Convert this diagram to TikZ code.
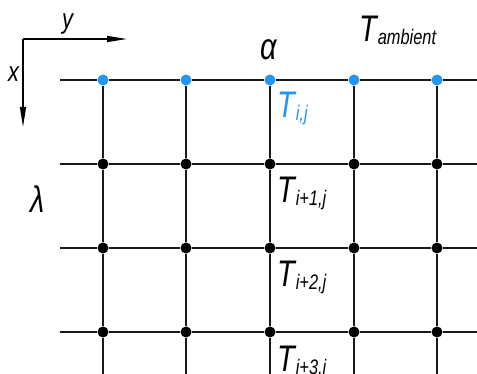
\documentclass[tikz,border=0pt]{standalone}
\usepackage{fontspec}
\setmainfont{Liberation Sans}[FakeStretch=0.78]
\usetikzlibrary{arrows.meta}
\definecolor{nodeblue}{RGB}{33,150,243}
\newcommand{\Tsub}[1]{T\kern1pt\raisebox{-3pt}{\fontsize{21}{21}\selectfont #1}}

\begin{document}
\begin{tikzpicture}[x=1pt,y=-1pt]

\tikzset{
  gridline/.style = {line width=1.6pt, draw=black!90},
  dot/.style      = {circle, fill=black, inner sep=0pt, minimum size=11pt},
  bdot/.style     = {dot, fill=nodeblue},
  axis/.style     = {-{Triangle[length=20pt,width=6pt]}, line width=1.3pt},
  lbl/.style      = {inner sep=0pt, anchor=base west, font=\fontsize{37}{40}\selectfont\itshape},
  axlbl/.style    = {lbl, font=\fontsize{28}{30}\selectfont\itshape},
}

\useasboundingbox (0,0) rectangle (477,374);

% coordinate axes
\coordinate (org) at (23,39);
\coordinate (ytip) at (127,39);
\coordinate (xtip) at (23,127);
\draw[axis] (org) -- (ytip);
\draw[axis] (org) -- (xtip);
\node[axlbl] (ylbl) at (62,29) {y};
\node[axlbl] (xlbl) at (8,82) {x};

% boundary row
\node[bdot] (n00) at (103,80) {};
\node[bdot] (n01) at (186,80) {};
\node[bdot] (n02) at (270,80) {};
\node[bdot] (n03) at (354,80) {};
\node[bdot] (n04) at (437,80) {};
% inner rows
\node[dot] (n10) at (103,164) {};
\node[dot] (n11) at (186,164) {};
\node[dot] (n12) at (270,164) {};
\node[dot] (n13) at (354,164) {};
\node[dot] (n14) at (437,164) {};
\node[dot] (n20) at (103,248) {};
\node[dot] (n21) at (186,248) {};
\node[dot] (n22) at (270,248) {};
\node[dot] (n23) at (354,248) {};
\node[dot] (n24) at (437,248) {};
\node[dot] (n30) at (103,332) {};
\node[dot] (n31) at (186,332) {};
\node[dot] (n32) at (270,332) {};
\node[dot] (n33) at (354,332) {};
\node[dot] (n34) at (437,332) {};

% free ends of the grid lines
\coordinate (l0) at (60,80);   \coordinate (r0) at (477,80);
\coordinate (l1) at (60,164);  \coordinate (r1) at (477,164);
\coordinate (l2) at (60,248);  \coordinate (r2) at (477,248);
\coordinate (l3) at (60,332);  \coordinate (r3) at (477,332);
\coordinate (b0) at (103,374); \coordinate (b1) at (186,374);
\coordinate (b2) at (270,374); \coordinate (b3) at (354,374);
\coordinate (b4) at (437,374);

\draw[gridline] (l0) -- (n00) -- (n01) -- (n02) -- (n03) -- (n04) -- (r0);
\draw[gridline] (l1) -- (n10) -- (n11) -- (n12) -- (n13) -- (n14) -- (r1);
\draw[gridline] (l2) -- (n20) -- (n21) -- (n22) -- (n23) -- (n24) -- (r2);
\draw[gridline] (l3) -- (n30) -- (n31) -- (n32) -- (n33) -- (n34) -- (r3);
\draw[gridline] (n00) -- (n10) -- (n20) -- (n30) -- (b0);
\draw[gridline] (n01) -- (n11) -- (n21) -- (n31) -- (b1);
\draw[gridline] (n02) -- (n12) -- (n22) -- (n32) -- (b2);
\draw[gridline] (n03) -- (n13) -- (n23) -- (n33) -- (b3);
\draw[gridline] (n04) -- (n14) -- (n24) -- (n34) -- (b4);

% labels
\node[lbl] (alpha) at (260,60) {α};
\node[lbl] (tamb) at (359,42) {\Tsub{ambient}};
\node[lbl] (lambda) at (30,213) {λ};
\node[lbl, text=nodeblue] (t0) at (277,118) {\Tsub{i,j}};
\node[lbl] (t1) at (277,203) {\Tsub{i+1,j}};
\node[lbl] (t2) at (277,287) {\Tsub{i+2,j}};
\node[lbl] (t3) at (277,371) {\Tsub{i+3,j}};
\end{tikzpicture}
\end{document}
